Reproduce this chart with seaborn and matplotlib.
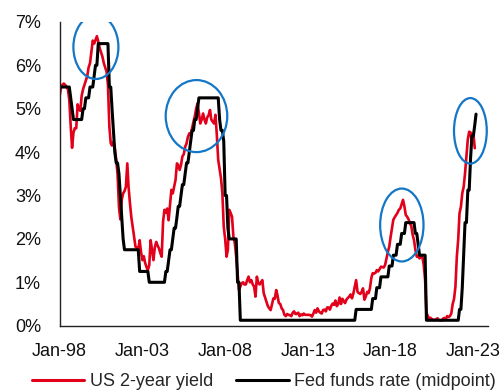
import matplotlib
matplotlib.use("Agg")
import matplotlib.pyplot as plt
import matplotlib.dates as mdates
from matplotlib.patches import Ellipse
from matplotlib.lines import Line2D
import seaborn as sns
import pandas as pd

# ---------------- data ----------------
# US 2-year Treasury yield (%), monthly from Jan-1998
us2y = [
    5.30, 5.50, 5.55, 5.58, 5.55, 5.50, 5.45, 5.20, 4.60, 4.10, 4.45, 4.55,  # 1998
    4.55, 5.10, 5.00, 4.95, 5.30, 5.45, 5.55, 5.65, 5.75, 5.95, 6.05, 6.30,  # 1999
    6.57, 6.50, 6.58, 6.67, 6.55, 6.40, 6.30, 6.20, 6.05, 5.95, 5.85, 5.55,  # 2000
    4.59, 4.20, 4.15, 4.24, 4.10, 3.82, 3.50, 2.74, 2.45, 2.90, 3.05, 3.10,  # 2001
    3.20, 3.74, 3.20, 2.82, 2.50, 2.28, 2.05, 1.82, 1.80, 1.75, 1.97, 1.70,  # 2002
    1.51, 1.60, 1.45, 1.35, 1.28, 1.40, 1.97, 1.75, 1.51, 1.80, 1.93, 1.85,  # 2003
    1.78, 1.67, 1.59, 2.40, 2.67, 2.60, 2.70, 2.43, 2.80, 3.13, 3.05, 3.20,  # 2004
    3.36, 3.74, 3.70, 3.59, 3.70, 3.90, 3.95, 4.12, 4.20, 4.35, 4.43, 4.40,  # 2005
    4.55, 4.70, 4.82, 5.00, 5.12, 4.90, 4.66, 4.75, 4.89, 4.75, 4.66, 4.80,  # 2006
    4.85, 4.97, 4.75, 4.70, 4.66, 4.86, 4.40, 3.82, 3.60, 3.40, 3.05, 2.28,  # 2007
    2.00, 1.59, 1.75, 2.67, 2.60, 2.51, 2.05, 1.90, 1.59, 1.20, 0.82, 0.90,  # 2008
    0.98, 1.00, 0.95, 0.95, 1.05, 1.13, 1.00, 1.05, 0.95, 0.90, 0.67, 1.13,  # 2009
    0.98, 0.95, 1.00, 1.05, 0.75, 0.65, 0.55, 0.45, 0.40, 0.36, 0.50, 0.63,  # 2010
    0.62, 0.82, 0.70, 0.52, 0.50, 0.40, 0.36, 0.25, 0.22, 0.27, 0.25, 0.24,  # 2011
    0.22, 0.30, 0.33, 0.27, 0.27, 0.30, 0.22, 0.26, 0.24, 0.28, 0.25, 0.25,  # 2012
    0.25, 0.25, 0.24, 0.21, 0.28, 0.36, 0.30, 0.40, 0.33, 0.30, 0.28, 0.36,  # 2013
    0.37, 0.33, 0.42, 0.42, 0.37, 0.46, 0.51, 0.48, 0.58, 0.45, 0.50, 0.65,  # 2014
    0.50, 0.62, 0.57, 0.52, 0.60, 0.64, 0.67, 0.72, 0.63, 0.74, 0.90, 1.05,  # 2015
    0.78, 0.75, 0.73, 0.78, 0.86, 0.60, 0.67, 0.78, 0.75, 0.86, 1.10, 1.21,  # 2016
    1.20, 1.22, 1.28, 1.25, 1.30, 1.36, 1.35, 1.34, 1.40, 1.55, 1.70, 1.82,  # 2017
    2.05, 2.25, 2.44, 2.50, 2.55, 2.60, 2.67, 2.70, 2.80, 2.90, 2.75, 2.55,  # 2018
    2.51, 2.45, 2.36, 2.30, 2.10, 1.97, 1.75, 1.59, 1.60, 1.55, 1.60, 1.59,  # 2019
    1.40, 1.05, 0.30, 0.22, 0.17, 0.18, 0.14, 0.14, 0.13, 0.15, 0.17, 0.13,  # 2020
    0.12, 0.12, 0.16, 0.18, 0.15, 0.22, 0.20, 0.22, 0.28, 0.50, 0.62, 0.90,  # 2021
    1.59, 2.00, 2.59, 2.74, 3.05, 3.20, 3.51, 3.89, 4.30, 4.47, 4.45, 4.20,  # 2022
    4.43, 4.09,                                                              # 2023
]

# Fed funds target range midpoint (%): month it changed -> new level
fed_dates = [
    "1998-01", "1998-09", "1998-10", "1998-11", "1999-06", "1999-08", "1999-11",
    "2000-02", "2000-03", "2000-05", "2001-01", "2001-03", "2001-04", "2001-05",
    "2001-06", "2001-08", "2001-09", "2001-10", "2001-11", "2001-12", "2002-11",
    "2003-06", "2004-06", "2004-08", "2004-09", "2004-11", "2004-12", "2005-02",
    "2005-03", "2005-05", "2005-06", "2005-08", "2005-09", "2005-11", "2005-12",
    "2006-01", "2006-03", "2006-05", "2006-06", "2007-09", "2007-10", "2007-12",
    "2008-01", "2008-03", "2008-04", "2008-10", "2008-12", "2015-12", "2016-12",
    "2017-03", "2017-06", "2017-12", "2018-03", "2018-06", "2018-09", "2018-12",
    "2019-07", "2019-09", "2019-10", "2020-03", "2022-03", "2022-05", "2022-06",
    "2022-07", "2022-09", "2022-11", "2022-12", "2023-02", "2023-03",
]
fed_levels = [
    5.5, 5.25, 5.0, 4.75, 5.0, 5.25, 5.5,
    5.75, 6.0, 6.5, 5.5, 5.0, 4.5, 4.0,
    3.75, 3.5, 3.0, 2.5, 2.0, 1.75, 1.25,
    1.0, 1.25, 1.5, 1.75, 2.0, 2.25, 2.5,
    2.75, 3.0, 3.25, 3.5, 3.75, 4.0, 4.25,
    4.5, 4.75, 5.0, 5.25, 4.75, 4.5, 4.25,
    3.0, 2.25, 2.0, 1.0, 0.125, 0.375, 0.625,
    0.875, 1.125, 1.375, 1.625, 1.875, 2.125, 2.375,
    2.125, 1.875, 1.625, 0.125, 0.375, 0.875, 1.625,
    2.375, 3.125, 3.875, 4.375, 4.625, 4.875,
]

tick_dates = ["1998-01-01", "2003-01-01", "2008-01-01", "2013-01-01", "2018-01-01", "2023-01-01"]
tick_labels = ["Jan-98", "Jan-03", "Jan-08", "Jan-13", "Jan-18", "Jan-23"]
y_ticks = [0, 1, 2, 3, 4, 5, 6, 7]

series_names = ["US 2-year yield", "Fed funds rate (midpoint)"]

# highlighted episodes (ellipse centre date, centre value, width in years, height in %)
circle_dates = ["2000-03-10", "2006-04-08", "2018-09-05", "2022-10-27"]
circle_vals = [6.42, 4.83, 2.32, 4.49]
circle_w_years = [2.72, 3.72, 2.62, 1.98]
circle_h = [1.47, 1.66, 1.68, 1.51]

# ---------------- frames ----------------
df_2y = pd.DataFrame({
    "date": pd.date_range("1998-01-01", periods=len(us2y), freq="MS"),
    "value": us2y,
})
fed = pd.Series(fed_levels, index=pd.to_datetime(fed_dates)).resample("MS").ffill()
df_fed = pd.DataFrame({"date": fed.index, "value": fed.values})

# ---------------- style ----------------
sns.set_style("white")
plt.rcParams["font.family"] = ["Liberation Sans", "DejaVu Sans"]
plt.rcParams["font.size"] = 13

RED = "#E2001A"
BLUE = "#1476C6"

fig = plt.figure(figsize=(5, 3.9), dpi=100)
ax = fig.add_axes([0.1194, 0.1649, 0.976 - 0.1194, 0.9438 - 0.1649])

sns.lineplot(data=df_2y, x="date", y="value", color=RED, linewidth=1.9, ax=ax, legend=False)
sns.lineplot(data=df_fed, x="date", y="value", color="black", linewidth=2.2, ax=ax, legend=False)

for d, v, w, h in zip(circle_dates, circle_vals, circle_w_years, circle_h):
    e = Ellipse((mdates.date2num(pd.Timestamp(d)), v), width=w * 365.25, height=h,
                fill=False, edgecolor=BLUE, linewidth=1.6, zorder=5)
    ax.add_patch(e)

ax.set_xlim(pd.Timestamp("1998-01-01"), pd.Timestamp("2023-11-20"))
ax.set_ylim(0, 7)
ax.set_xticks(pd.to_datetime(tick_dates))
ax.set_xticklabels(tick_labels)
ax.set_yticks(y_ticks)
ax.set_yticklabels([f"{t}%" for t in y_ticks])
ax.set_xlabel("")
ax.set_ylabel("")

for s in ["top", "right"]:
    ax.spines[s].set_visible(False)
for s in ["left", "bottom"]:
    ax.spines[s].set_color("#222222")
    ax.spines[s].set_linewidth(1.0)

ax.tick_params(axis="both", which="major", direction="out", length=4.5, width=1.0,
               color="#222222", labelsize=13, labelcolor="#111111")
ax.tick_params(axis="y", pad=9)
ax.tick_params(axis="x", pad=8)

handles = [Line2D([0], [0], color=RED, linewidth=2.2),
           Line2D([0], [0], color="black", linewidth=2.2)]
fig.legend(handles, series_names, loc="center", bbox_to_anchor=(0.528, 0.022), ncol=2,
           frameon=False, handlelength=2.9, handletextpad=0.3, columnspacing=1.3,
           fontsize=13, borderpad=0, borderaxespad=0)

fig.savefig("out.png", dpi=100)
